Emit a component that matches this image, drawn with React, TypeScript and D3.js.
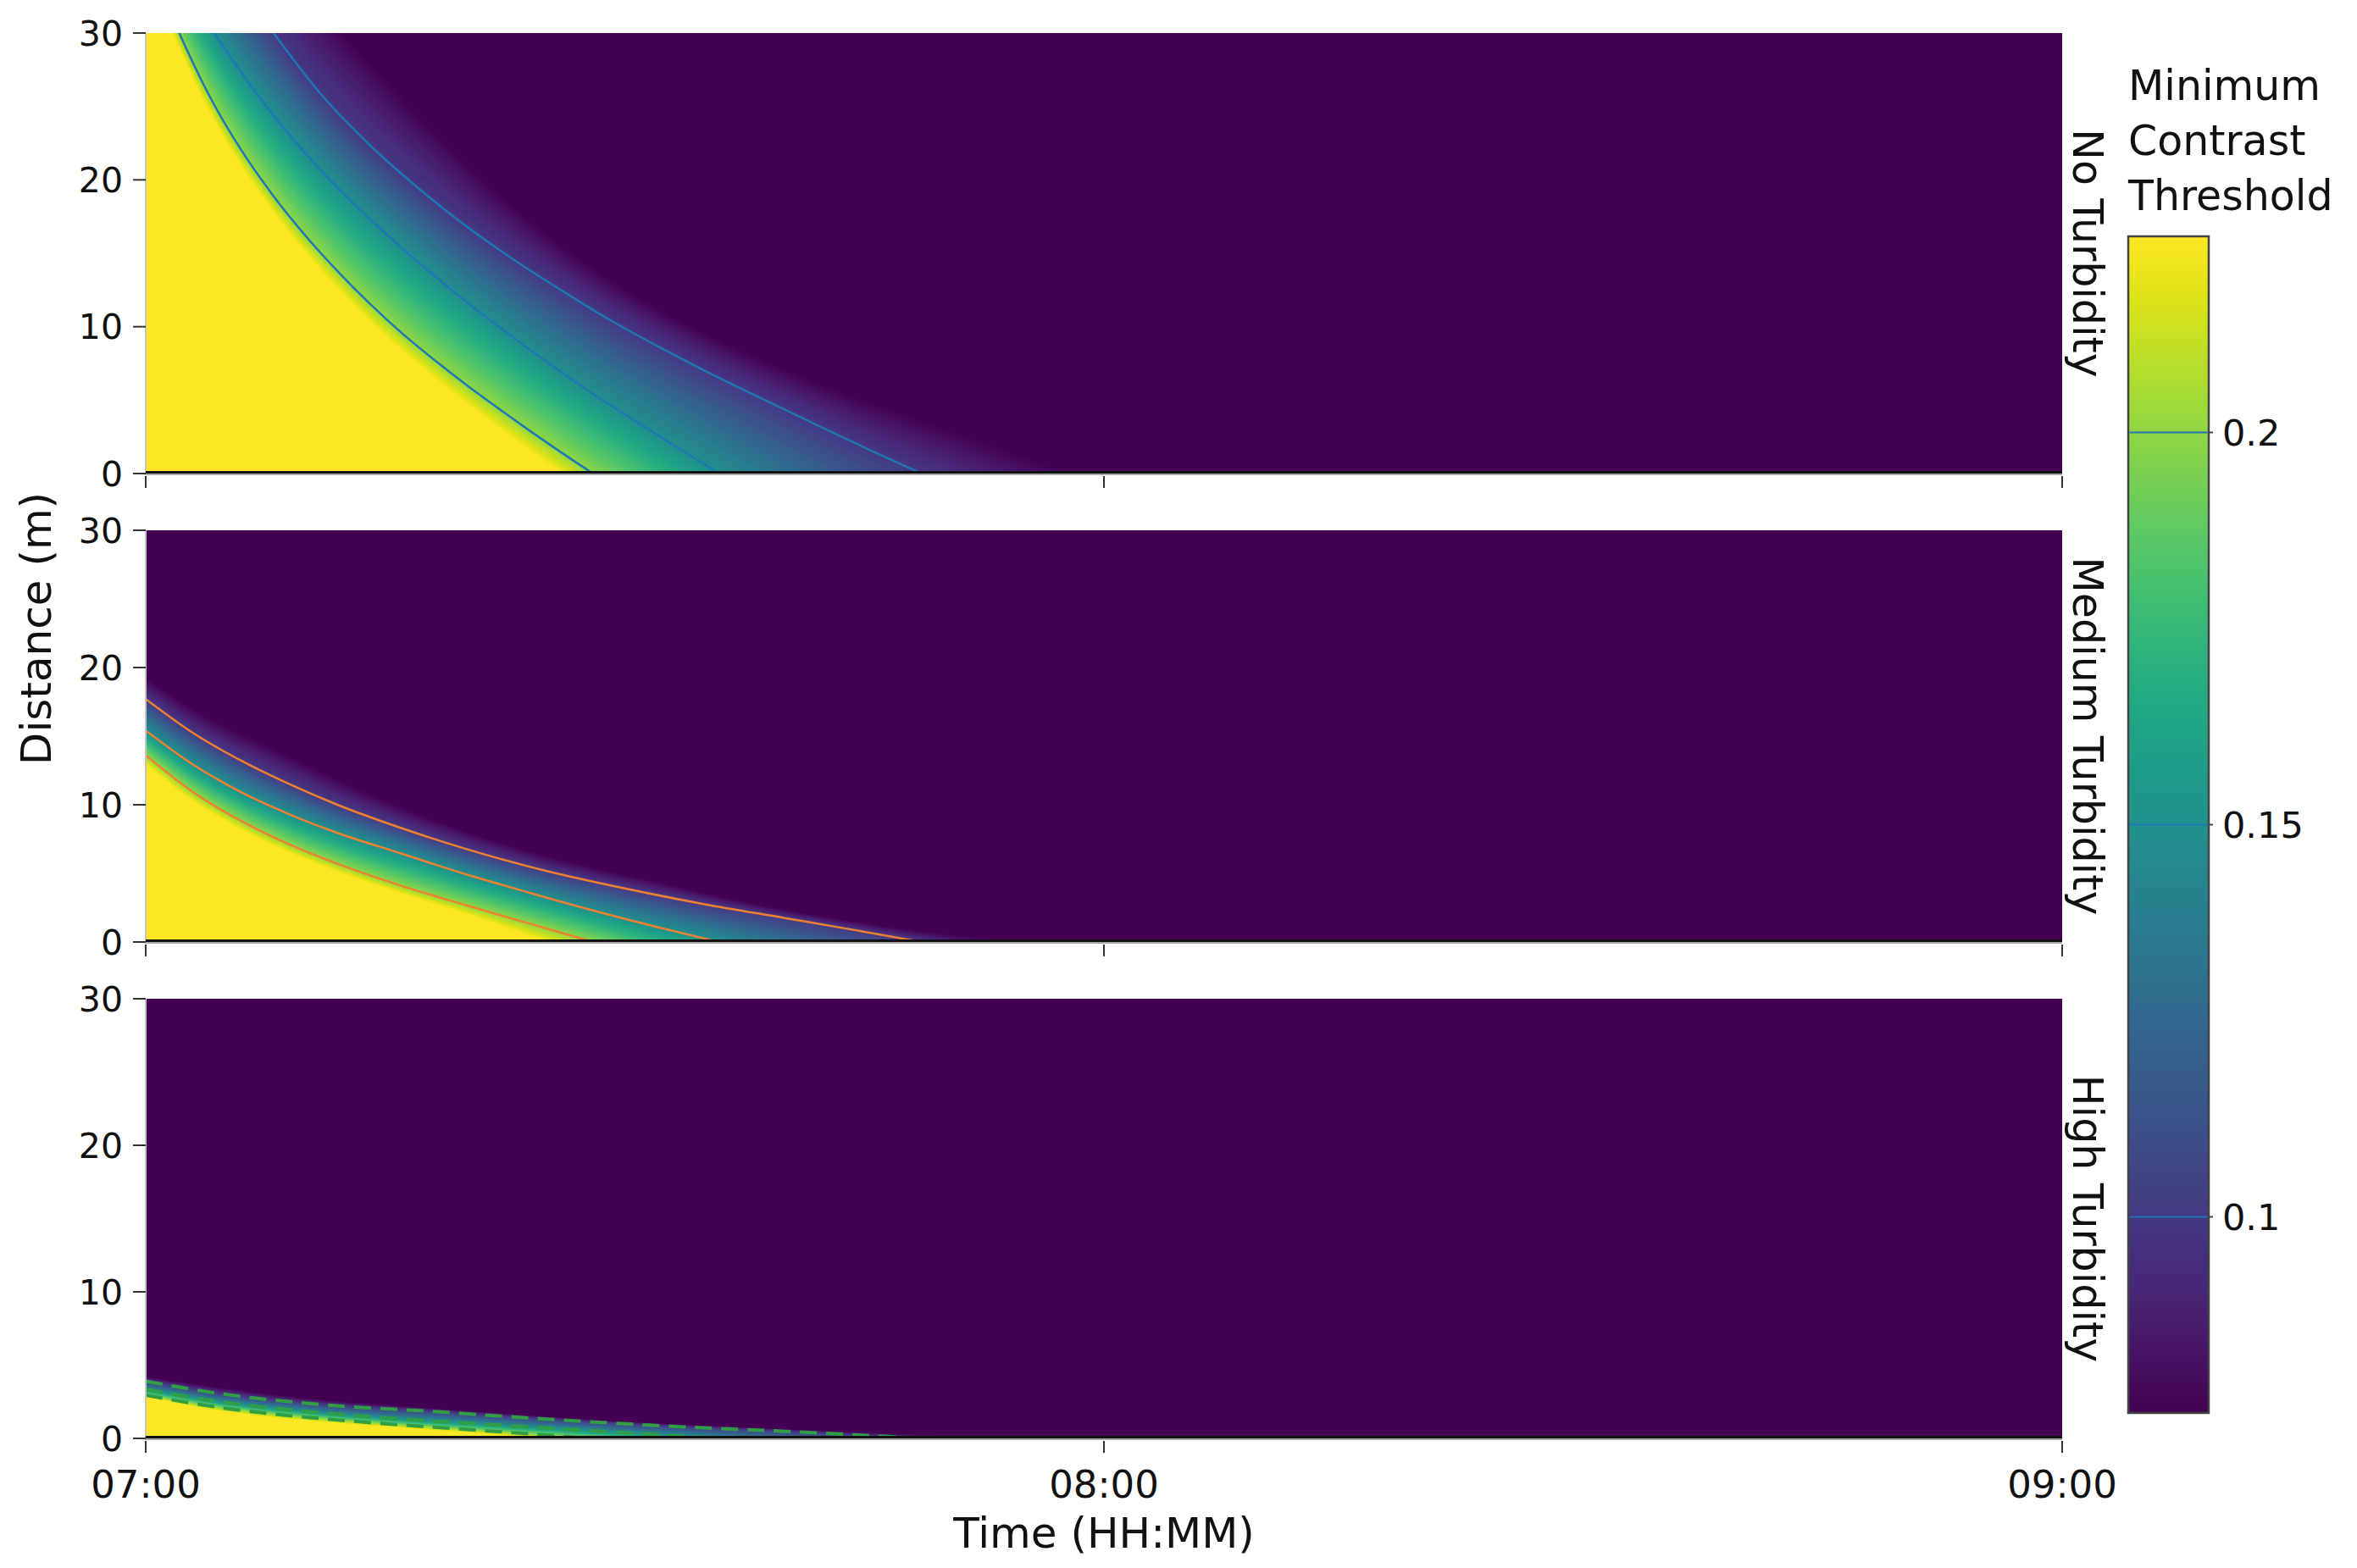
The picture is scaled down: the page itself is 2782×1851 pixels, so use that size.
import React, { useMemo } from 'react';
import * as d3 from 'd3';

type Pt = [number, number];

// ---------------- DATA ----------------
// Threshold levels: first/last are the colour-scale limits, middle three are drawn as contour lines
const LEVELS = [0.225, 0.2, 0.15, 0.1, 0.075];
const LINE_LEVEL_INDEX = [1, 2, 3];
const CBAR_TICKS = [0.1, 0.15, 0.2];
const CBAR_LABELS = ['0.1', '0.15', '0.2'];
const C_MIN = 0.075;
const C_MAX = 0.225;

const TIME_TICKS = [0, 60, 120]; // minutes after 07:00
const TIME_LABELS = ['07:00', '08:00', '09:00'];
const DIST_TICKS = [0, 10, 20, 30];
const PANEL_NAMES = ['No Turbidity', 'Medium Turbidity', 'High Turbidity'];

// Each curve: [minutes after 07:00, distance (m)] where the threshold equals the level
// Panel 1: No Turbidity
const noTurb225: Pt[] = [[0, 34.6], [1.67, 30], [3.46, 25.7], [5.34, 22.0], [7.21, 18.9], [9.09, 16.2], [10.97, 13.8], [12.85, 11.6], [14.73, 9.6], [16.61, 7.8], [18.49, 6.1], [20.36, 4.5], [22.24, 2.95], [24.12, 1.45], [26, 0]];
const noTurb200: Pt[] = [[0, 35.5], [2.1, 30], [4, 25.7], [6, 22.0], [8, 18.9], [10, 16.2], [12, 13.8], [14, 11.6], [16, 9.6], [18, 7.8], [20, 6.1], [22, 4.5], [24, 2.95], [26, 1.45], [28, 0]];
const noTurb150: Pt[] = [[0, 37.5], [4.3, 30], [7, 25.8], [10, 21.8], [13, 18.4], [16, 15.4], [19, 12.64], [22, 10.09], [25, 7.69], [28, 5.44], [31, 3.34], [35.9, 0]];
const noTurb100: Pt[] = [[0, 42.5], [4, 36], [8, 30], [11, 25.8], [14, 22.4], [17, 19.5], [20, 16.9], [23, 14.6], [26, 12.5], [29, 10.5], [32, 8.7], [35, 7.0], [38, 5.4], [41, 3.84], [44, 2.28], [48.6, 0]];
const noTurb075: Pt[] = [[0, 47], [12.4, 30], [17.7, 23.8], [22.7, 18.5], [29.8, 12.7], [36.9, 8.6], [44, 5.4], [51.1, 2.7], [58, 0]];

// Panel 2: Medium Turbidity
const medTurb225: Pt[] = [[0, 12.9], [3, 10.2], [6, 8.15], [9, 6.5], [12, 5.1], [16, 3.5], [20, 2.05], [25, 0]];
const medTurb200: Pt[] = [[0, 13.6], [3, 10.9], [6, 8.8], [9, 7.1], [12, 5.7], [16, 4.1], [20, 2.7], [24, 1.35], [28, 0]];
const medTurb150: Pt[] = [[0, 15.4], [3, 12.9], [6, 10.9], [9, 9.3], [12, 7.95], [16, 6.45], [20, 4.95], [24, 3.6], [28, 2.3], [32, 1.1], [35.9, 0]];
const medTurb100: Pt[] = [[0, 17.7], [3, 15.2], [6, 13.2], [9, 11.5], [12, 10.0], [16, 8.3], [20, 6.8], [25, 5.2], [30, 3.9], [35, 2.75], [40, 1.75], [44, 0.95], [48.6, 0]];
const medTurb075: Pt[] = [[0, 19.2], [4, 16.3], [8.4, 13.9], [14, 10.8], [20.5, 7.9], [26, 6.0], [32.7, 4.2], [38, 2.8], [44.9, 1.4], [50, 0.6], [56, 0]];

// Panel 3: High Turbidity
const highTurb225: Pt[] = [[0, 2.8], [5, 1.8], [10, 1.2], [15, 0.8], [20, 0.4], [25, 0]];
const highTurb200: Pt[] = [[0, 2.95], [5, 2.05], [10, 1.45], [15, 1.0], [20, 0.62], [28, 0]];
const highTurb150: Pt[] = [[0, 3.35], [5, 2.45], [10, 1.85], [15, 1.4], [20, 1.05], [28, 0.52], [35.9, 0]];
const highTurb100: Pt[] = [[0, 3.9], [5, 3.0], [11.1, 2.3], [18.5, 1.8], [25, 1.32], [33.4, 0.8], [40, 0.48], [48.6, 0]];
const highTurb075: Pt[] = [[0, 4.2], [10, 2.75], [20, 1.9], [30, 1.15], [40, 0.65], [50, 0.2], [58, 0]];

const PANEL_CURVES: Pt[][][] = [
  [noTurb225, noTurb200, noTurb150, noTurb100, noTurb075],
  [medTurb225, medTurb200, medTurb150, medTurb100, medTurb075],
  [highTurb225, highTurb200, highTurb150, highTurb100, highTurb075],
];

// ---------------- LAYOUT / STYLE ----------------
const W = 2782;
const H = 1851;
const PLOT_LEFT = 172;
const PLOT_RIGHT = 2434;
const PANEL_BOUNDS: [number, number][] = [[39, 559], [626, 1112], [1179, 1698]];
const LINE_STYLES = [
  { color: '#1f77b4', width: 2.5, dash: undefined as string | undefined },
  { color: '#ee8030', width: 2.5, dash: undefined as string | undefined },
  { color: '#2f9e44', width: 4, dash: '20,11' },
];
const CBAR = { x0: 2512, x1: 2607, y0: 279, y1: 1668 };
const FONT = '"DejaVu Sans", Verdana, sans-serif';

function monotoneInterp(pts: Pt[]) {
  const n = pts.length;
  const xs = pts.map((p) => p[0]);
  const ys = pts.map((p) => p[1]);
  const dx: number[] = [];
  const m: number[] = [];
  for (let i = 0; i < n - 1; i++) {
    dx[i] = xs[i + 1] - xs[i];
    m[i] = (ys[i + 1] - ys[i]) / dx[i];
  }
  const tan: number[] = new Array(n);
  tan[0] = m[0];
  tan[n - 1] = m[n - 2];
  for (let i = 1; i < n - 1; i++) {
    if (m[i - 1] * m[i] <= 0) tan[i] = 0;
    else {
      const w1 = 2 * dx[i] + dx[i - 1];
      const w2 = dx[i] + 2 * dx[i - 1];
      tan[i] = (w1 + w2) / (w1 / m[i - 1] + w2 / m[i]);
    }
  }
  return (x: number) => {
    if (x <= xs[0]) return ys[0] + m[0] * (x - xs[0]);
    if (x >= xs[n - 1]) return ys[n - 1] + m[n - 2] * (x - xs[n - 1]);
    const i = Math.min(n - 2, d3.bisectRight(xs, x) - 1);
    const h = dx[i];
    const s = (x - xs[i]) / h;
    const s2 = s * s;
    const s3 = s2 * s;
    return (
      (2 * s3 - 3 * s2 + 1) * ys[i] +
      (s3 - 2 * s2 + s) * h * tan[i] +
      (-2 * s3 + 3 * s2) * ys[i + 1] +
      (s3 - s2) * h * tan[i + 1]
    );
  };
}

function renderField(
  curves: Pt[][],
  x: d3.ScaleLinear<number, number>,
  y: d3.ScaleLinear<number, number>,
  top: number,
  bottom: number
): string {
  const w = PLOT_RIGHT - PLOT_LEFT;
  const h = bottom - top;
  const canvas = document.createElement('canvas');
  canvas.width = w;
  canvas.height = h;
  const ctx = canvas.getContext('2d');
  if (!ctx) return '';
  const img = ctx.createImageData(w, h);
  const fns = curves.map(monotoneInterp);
  const lut = d3.range(256).map((i) => d3.rgb(d3.interpolateViridis(i / 255)));
  const cidx = d3.scaleLinear().domain([C_MIN, C_MAX]).range([0, 255]).clamp(true);
  const L = LEVELS;
  const D = new Array(L.length);
  for (let px = 0; px < w; px++) {
    const t = x.invert(PLOT_LEFT + px + 0.5);
    for (let k = 0; k < L.length; k++) D[k] = fns[k](t);
    for (let k = 1; k < L.length; k++) if (D[k] < D[k - 1]) D[k] = D[k - 1];
    for (let py = 0; py < h; py++) {
      const d = y.invert(top + py + 0.5);
      let v: number;
      if (d <= D[0]) v = L[0];
      else if (d >= D[L.length - 1]) v = L[L.length - 1];
      else {
        let i = 0;
        while (i < L.length - 2 && d >= D[i + 1]) i++;
        const span = D[i + 1] - D[i];
        const f = span > 1e-9 ? (d - D[i]) / span : 1;
        v = L[i] + f * (L[i + 1] - L[i]);
      }
      const c = lut[Math.round(cidx(v))];
      const o = (py * w + px) * 4;
      img.data[o] = c.r;
      img.data[o + 1] = c.g;
      img.data[o + 2] = c.b;
      img.data[o + 3] = 255;
    }
  }
  ctx.putImageData(img, 0, 0);
  return canvas.toDataURL();
}

export default function App() {
  const x = useMemo(() => d3.scaleLinear().domain([0, 120]).range([PLOT_LEFT, PLOT_RIGHT]), []);
  const yScales = useMemo(
    () => PANEL_BOUNDS.map(([t, b]) => d3.scaleLinear().domain([0, 30]).range([b, t])),
    []
  );
  const images = useMemo(
    () => PANEL_CURVES.map((curves, i) => renderField(curves, x, yScales[i], PANEL_BOUNDS[i][0], PANEL_BOUNDS[i][1])),
    [x, yScales]
  );
  const cScale = d3.scaleLinear().domain([C_MIN, C_MAX]).range([CBAR.y1, CBAR.y0]);
  const gradStops = d3.range(0, 1.0001, 0.05);

  return (
    <svg
      width={W}
      height={H}
      viewBox={`0 0 ${W} ${H}`}
      style={{ position: 'absolute', left: 0, top: 0, background: '#fff' }}
      fontFamily={FONT}
    >
      <defs>
        {PANEL_BOUNDS.map(([t, b], i) => (
          <clipPath id={`clip${i}`} key={i}>
            <rect x={PLOT_LEFT} y={t} width={PLOT_RIGHT - PLOT_LEFT} height={b - t} />
          </clipPath>
        ))}
        <linearGradient id="cbarGrad" x1="0" y1="1" x2="0" y2="0">
          {gradStops.map((s) => (
            <stop key={s} offset={s} stopColor={d3.interpolateViridis(s)} />
          ))}
        </linearGradient>
      </defs>
      <rect width={W} height={H} fill="#fff" />

      {PANEL_BOUNDS.map(([top, bottom], i) => {
        const y = yScales[i];
        const style = LINE_STYLES[i];
        const line = d3
          .line<Pt>()
          .x((p) => x(p[0]))
          .y((p) => y(p[1]))
          .curve(d3.curveMonotoneX);
        return (
          <g key={i}>
            <image
              href={images[i]}
              x={PLOT_LEFT}
              y={top}
              width={PLOT_RIGHT - PLOT_LEFT}
              height={bottom - top}
              preserveAspectRatio="none"
            />
            <g clipPath={`url(#clip${i})`}>
              {LINE_LEVEL_INDEX.map((k) => (
                <path
                  key={k}
                  d={line(PANEL_CURVES[i][k]) || ''}
                  fill="none"
                  stroke={style.color}
                  strokeWidth={style.width}
                  strokeDasharray={style.dash}
                />
              ))}
            </g>
            {/* axis lines */}
            <line x1={PLOT_LEFT} x2={PLOT_LEFT} y1={top} y2={bottom + 2} stroke="#c4c4c4" strokeWidth={2} />
            <rect x={PLOT_LEFT} y={bottom - 3} width={PLOT_RIGHT - PLOT_LEFT} height={3} fill="#111" />
            <line x1={PLOT_LEFT} x2={PLOT_RIGHT} y1={bottom + 1} y2={bottom + 1} stroke="#a8a8a8" strokeWidth={2} />
            {/* y ticks */}
            {DIST_TICKS.map((v) => (
              <g key={v}>
                <line x1={PLOT_LEFT - 15} x2={PLOT_LEFT} y1={y(v)} y2={y(v)} stroke="#333" strokeWidth={2} />
                <text x={PLOT_LEFT - 27} y={y(v)} dy="0.36em" textAnchor="end" fontSize={41} fill="#111">
                  {v}
                </text>
              </g>
            ))}
            {/* x ticks */}
            {TIME_TICKS.map((v) => (
              <line key={v} x1={x(v)} x2={x(v)} y1={bottom + 3} y2={bottom + 17} stroke="#333" strokeWidth={2} />
            ))}
            {/* facet label */}
            <text
              transform={`translate(2447, ${(top + bottom) / 2}) rotate(90)`}
              textAnchor="middle"
              fontSize={49}
              fill="#111"
            >
              {PANEL_NAMES[i]}
            </text>
          </g>
        );
      })}

      {/* x tick labels */}
      {TIME_TICKS.map((v, i) => (
        <text key={v} x={x(v)} y={1768} textAnchor="middle" fontSize={45} fill="#111">
          {TIME_LABELS[i]}
        </text>
      ))}
      <text x={x(60)} y={1827} textAnchor="middle" fontSize={50} fill="#111">
        Time (HH:MM)
      </text>
      <text transform="translate(60, 742) rotate(-90)" textAnchor="middle" fontSize={50} fill="#111">
        Distance (m)
      </text>

      {/* colour bar */}
      <text x={CBAR.x0} y={118} fontSize={49} fill="#111">Minimum</text>
      <text x={CBAR.x0} y={183} fontSize={49} fill="#111">Contrast</text>
      <text x={CBAR.x0} y={248} fontSize={49} fill="#111">Threshold</text>
      <rect
        x={CBAR.x0}
        y={CBAR.y0}
        width={CBAR.x1 - CBAR.x0}
        height={CBAR.y1 - CBAR.y0}
        fill="url(#cbarGrad)"
        stroke="#444"
        strokeWidth={2.5}
      />
      {CBAR_TICKS.map((v, i) => (
        <g key={v}>
          <line x1={CBAR.x0 + 1.5} x2={CBAR.x1 - 1.5} y1={cScale(v)} y2={cScale(v)} stroke="#1f77b4" strokeWidth={2} />
          <line x1={CBAR.x1} x2={CBAR.x1 + 5} y1={cScale(v)} y2={cScale(v)} stroke="#444" strokeWidth={2} />
          <text x={CBAR.x1 + 16} y={cScale(v)} dy="0.36em" fontSize={43} fill="#111">
            {CBAR_LABELS[i]}
          </text>
        </g>
      ))}
    </svg>
  );
}
